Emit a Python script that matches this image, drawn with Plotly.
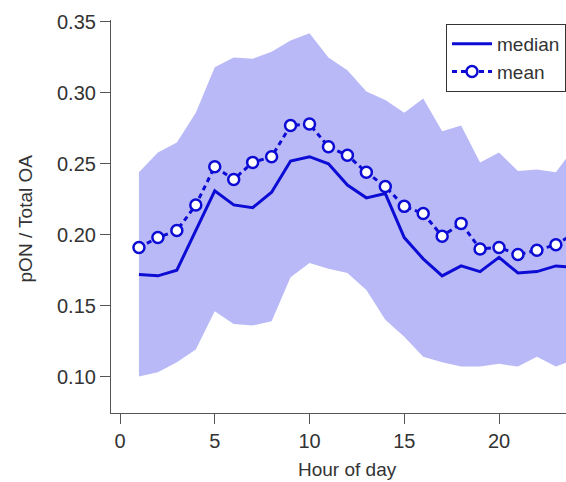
import plotly.graph_objects as go

hours = list(range(1, 25))
median = [0.172, 0.171, 0.175, 0.203, 0.231, 0.221, 0.219, 0.230, 0.252, 0.255, 0.250, 0.235,
          0.226, 0.229, 0.198, 0.183, 0.171, 0.178, 0.174, 0.184, 0.173, 0.174, 0.178, 0.177]
mean = [0.191, 0.198, 0.203, 0.221, 0.248, 0.239, 0.251, 0.255, 0.277, 0.278, 0.262, 0.256,
        0.244, 0.234, 0.220, 0.215, 0.199, 0.208, 0.190, 0.191, 0.186, 0.189, 0.193, 0.201]
upper = [0.244, 0.258, 0.265, 0.286, 0.318, 0.325, 0.324, 0.329, 0.337, 0.342, 0.325, 0.316,
         0.301, 0.295, 0.286, 0.296, 0.273, 0.277, 0.251, 0.258, 0.245, 0.246, 0.244, 0.262]
lower = [0.100, 0.103, 0.110, 0.119, 0.146, 0.137, 0.136, 0.139, 0.170, 0.180, 0.176, 0.173,
         0.161, 0.140, 0.128, 0.114, 0.110, 0.107, 0.107, 0.109, 0.107, 0.114, 0.107, 0.112]

BLUE = "#0c0cd4"
BAND = "#b9b9f8"
FONT = "Liberation Sans, Arial, sans-serif"

fig = go.Figure()
fig.add_trace(go.Scatter(x=hours, y=upper, mode="lines", line=dict(width=0, color=BAND),
                         showlegend=False, hoverinfo="skip"))
fig.add_trace(go.Scatter(x=hours, y=lower, mode="lines", line=dict(width=0, color=BAND),
                         fill="tonexty", fillcolor=BAND, showlegend=False, hoverinfo="skip"))
fig.add_trace(go.Scatter(x=hours, y=median, mode="lines", name="median",
                         line=dict(color=BLUE, width=3)))
fig.add_trace(go.Scatter(x=hours, y=mean, mode="lines+markers", name="mean",
                         line=dict(color=BLUE, width=3, dash="5px,4px"),
                         marker=dict(symbol="circle", size=11, color="white",
                                     line=dict(color=BLUE, width=2.5))))

axis_common = dict(showgrid=False, zeroline=False, showline=True, linecolor="#555555",
                   linewidth=1.2, ticks="outside", ticklen=10, tickcolor="#555555",
                   tickwidth=1.2, tickfont=dict(family=FONT, size=20, color="#333333"))

fig.update_xaxes(range=[-0.475, 23.535], tickvals=[0, 5, 10, 15, 20], **axis_common)
fig.update_yaxes(range=[0.0743, 0.3514], tickvals=[0.10, 0.15, 0.20, 0.25, 0.30, 0.35],
                 tickformat=".2f", **axis_common)

fig.update_layout(
    width=566, height=482,
    margin=dict(l=111, r=0, t=20, b=69),
    plot_bgcolor="white", paper_bgcolor="white",
    font=dict(family=FONT, color="#333333"),
    legend=dict(x=1, xanchor="right", y=0.99, yanchor="top", traceorder="normal",
                bordercolor="#333333", borderwidth=1, bgcolor="white",
                font=dict(family=FONT, size=19, color="#333333"),
                tracegroupgap=0, itemwidth=40),
    annotations=[
        dict(text="Hour of day", xref="paper", yref="paper", x=0.519, y=-0.145,
             xanchor="center", yanchor="middle", showarrow=False,
             font=dict(family=FONT, size=19, color="#333333")),
        dict(text="pON / Total OA", xref="paper", yref="paper", x=-0.189, y=0.495,
             xanchor="center", yanchor="middle", showarrow=False, textangle=-90,
             font=dict(family=FONT, size=19, color="#333333")),
    ],
)

fig.write_html("out.html", config={"displayModeBar": False},
               post_script="document.body.style.margin='0';")
